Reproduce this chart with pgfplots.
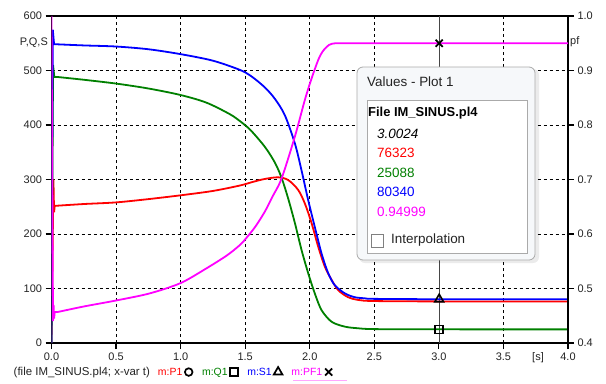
\documentclass[border=0pt]{standalone}
\usepackage{fontspec}
\setmainfont{Liberation Sans}
\usepackage{pgfplots}
\pgfplotsset{compat=1.18}
\definecolor{cP}{RGB}{255,0,0}
\definecolor{cQ}{RGB}{0,128,0}
\definecolor{cS}{RGB}{0,0,255}
\definecolor{cPF}{RGB}{255,0,255}
\definecolor{txt}{RGB}{35,35,35}
\definecolor{cursor}{RGB}{70,70,70}
\definecolor{boxbg}{RGB}{246,248,250}
\definecolor{boxln}{RGB}{170,170,170}
\pgfplotsset{
  common/.style={
    at={(51.5bp,40bp)}, anchor=south west,
    scale only axis, width=516.5bp, height=327bp,
    xmin=0, xmax=4,
    tick align=outside, major tick length=6bp,
    tick style={black, line width=1.2bp},
    ticklabel style={font=\fontsize{11}{11}\selectfont, text=txt},
    /pgf/number format/assume math mode=true,
  },
  mk/.style={legend image code/.code={\path (0bp,0bp) (10bp,0bp); \draw[##1] plot coordinates {(5bp,0.5bp)};}},
}
\newcommand{\lf}{\fontsize{10.5}{12}\selectfont}
\begin{document}
\begin{tikzpicture}[x=1bp,y=1bp]
\useasboundingbox (0,0) rectangle (606,383);
\begin{axis}[common,
  ymin=0, ymax=600,
  xtick={0,0.5,1,1.5,2,2.5,3,3.5,4},
  xticklabels={0.0,0.5,1.0,1.5,2.0,2.5,3.0,3.5,4.0},
  ytick={0,100,200,300,400,500,600},
  xtick pos=left, ytick pos=left,
  axis line style={black, line width=1.6bp},
  xmajorgrids=true, ymajorgrids=true,
  grid style={black, line width=0.7bp, dash pattern=on 3bp off 3bp},
]
\addplot[forget plot, cursor, line width=1.2bp] coordinates {(3.0024,0) (3.0024,600)};
% P
\addplot[forget plot, cP, line width=1.8bp] coordinates {
(0,0) (0.015,300) (0.02,240) (0.025,252) (0.05,252)};
\addplot[forget plot, cP, line width=1.8bp, smooth, tension=0.5] coordinates {
(0.05,252) (0.25,255) (0.5,258) (0.75,264)
(1.0,271) (1.25,279) (1.46,289) (1.55,295) (1.652,301) (1.756,304) (1.833,299)
(1.91,281) (1.962,256) (2.014,220) (2.065,177) (2.117,140) (2.169,116) (2.22,97)
(2.297,84) (2.375,79) (2.5,77) (3.0024,76.323) (4,76.3)};
% Q
\addplot[forget plot, cQ, line width=1.8bp] coordinates {
(0,0) (0.012,510) (0.022,488) (0.05,488)};
\addplot[forget plot, cQ, line width=1.8bp, smooth, tension=0.5] coordinates {
(0.05,488) (0.25,483) (0.5,476) (0.75,467) (1.0,455)
(1.2,441) (1.38,420) (1.46,407) (1.54,391) (1.652,360) (1.73,331) (1.782,303)
(1.833,265) (1.885,220) (1.936,171) (1.988,128) (2.039,91) (2.091,60.5) (2.169,39)
(2.272,30) (2.375,27) (2.5,25.5) (3.0024,25.088) (4,25)};
% S
\addplot[forget plot, cS, line width=1.8bp] coordinates {
(0,0) (0.01,575) (0.02,548) (0.05,548)};
\addplot[forget plot, cS, line width=1.8bp, smooth, tension=0.5] coordinates {
(0.05,548) (0.25,546) (0.5,544) (0.75,539) (1.0,530)
(1.25,518) (1.46,501) (1.55,489) (1.652,469) (1.73,448) (1.807,418) (1.885,366)
(1.936,317) (1.988,262) (2.039,213) (2.091,164.5) (2.143,128) (2.194,106) (2.272,91)
(2.349,84) (2.427,82) (2.5,81) (3.0024,80.34) (4,80.3)};
\addplot[forget plot, only marks, black, mark=square, mark size=4bp, line width=1.6bp] coordinates {(3.0024,25.088)};
\addplot[forget plot, only marks, black, mark=triangle, mark size=5bp, line width=1.6bp] coordinates {(3.0024,80.34)};
\end{axis}
\begin{axis}[common,
  ymin=0.4, ymax=1.0,
  axis x line=none, axis y line*=right,
  axis line style={black, line width=1.6bp},
  ytick={0.4,0.5,0.6,0.7,0.8,0.9,1.0},
  yticklabels={0.4,0.5,0.6,0.7,0.8,0.9,1.0},
  legend columns=-1,
  legend plot pos=right,
  legend style={at={(-0.0745,-0.0902)}, anchor=west, draw=none, fill=none,
    inner sep=0pt, font=\fontsize{11.5}{12}\selectfont,
    nodes={inner sep=0.5bp},
    /tikz/every odd column/.append style={column sep=0bp},
    /tikz/every even column/.append style={column sep=7bp}},
]
\addlegendimage{empty legend}
\addlegendentry{\textcolor{txt}{(file IM\_SINUS.pl4; x-var t)}}
\addlegendimage{only marks, black, mark=o, mark size=3.8bp, line width=1.7bp, mk}
\addlegendentry{\lf\textcolor{cP}{m:P1}}
\addlegendimage{only marks, black, mark=square, mark size=4bp, line width=1.7bp, mk}
\addlegendentry{\lf\textcolor{cQ}{m:Q1}}
\addlegendimage{only marks, black, mark=triangle, mark size=5bp, line width=1.7bp, mk}
\addlegendentry{\lf\textcolor{cS}{m:S1}}
% PF
\addplot[forget plot, cPF, line width=1.8bp] coordinates {
(0,1.0) (0.008,0.6) (0.012,0.44) (0.016,0.47) (0.02,0.445) (0.025,0.457) (0.05,0.457)};
\addplot[forget plot, cPF, line width=1.8bp, smooth, tension=0.5] coordinates {
(0.05,0.457) (0.25,0.467) (0.5,0.478) (0.76,0.491) (1.0,0.510) (1.2,0.537) (1.36,0.561) (1.46,0.58)
(1.51,0.593) (1.58,0.614) (1.652,0.641) (1.71,0.668) (1.782,0.702) (1.885,0.779)
(1.962,0.846) (2.015,0.886) (2.065,0.919) (2.10,0.935) (2.15,0.947) (2.2,0.95) (2.3,0.95)
(3.0024,0.94999) (4,0.95)};
\addplot[only marks, black, mark=x, mark size=5bp, line width=1.8bp, mk] coordinates {(3.0024,0.94999)};
\addlegendentry{\lf\textcolor{cPF}{m:PF1}}
\end{axis}
% axis side labels
\node[anchor=east, font=\fontsize{11}{11}\selectfont, text=txt, inner sep=0] at (48,340) {P,Q,S};
\node[anchor=west, font=\fontsize{11}{11}\selectfont, text=txt, inner sep=0] at (570,341) {pf};
\node[font=\fontsize{11}{11}\selectfont, text=txt, inner sep=0] at (538,25) {[s]};
\draw[cPF!35, line width=1bp] (293,3) -- (347,3);
% values window
\fill[black, opacity=0.08, rounded corners=6] (359,120) rectangle (539,314);
\filldraw[fill=boxbg, draw=boxln, line width=0.8bp, rounded corners=6] (357,123) rectangle (535,316);
\filldraw[fill=white, draw=boxln, line width=0.8bp] (367,130) rectangle (527,283);
\node[anchor=west, inner sep=0, font=\fontsize{13.5}{14}\selectfont, text=txt] at (367,301) {Values - Plot 1};
\node[anchor=west, inner sep=0, font=\fontsize{13}{14}\selectfont\bfseries, text=black] at (368,270) {File IM\_SINUS.pl4};
\node[anchor=west, inner sep=0, font=\fontsize{13.5}{14}\selectfont\itshape, text=black] at (377,249) {3.0024};
\node[anchor=west, inner sep=0, font=\fontsize{13.5}{14}\selectfont, text=cP] at (377,230) {76323};
\node[anchor=west, inner sep=0, font=\fontsize{13.5}{14}\selectfont, text=cQ] at (377,210) {25088};
\node[anchor=west, inner sep=0, font=\fontsize{13.5}{14}\selectfont, text=cS] at (377,191) {80340};
\node[anchor=west, inner sep=0, font=\fontsize{13.5}{14}\selectfont, text=cPF] at (377,171) {0.94999};
\filldraw[fill=white, draw=gray, line width=0.8bp] (371,136) rectangle (383,149);
\node[anchor=west, inner sep=0, font=\fontsize{13.5}{14}\selectfont, text=txt] at (391,143) {Interpolation};
\end{tikzpicture}
\end{document}
